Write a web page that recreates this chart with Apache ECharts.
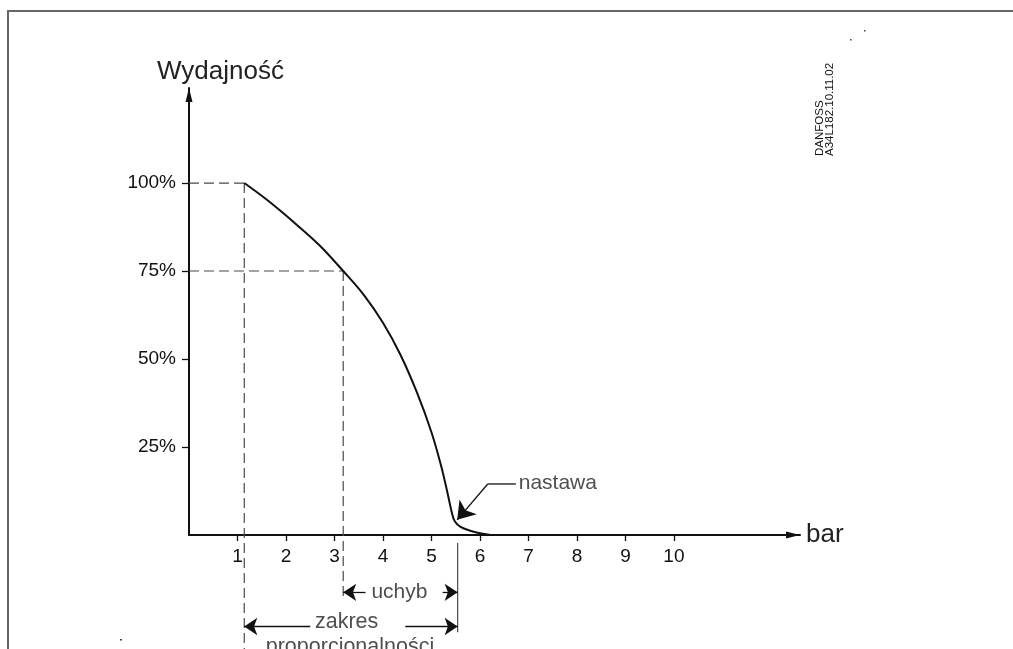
<!DOCTYPE html>
<html>
<head>
<meta charset="utf-8">
<script src="https://cdn.jsdelivr.net/npm/echarts@6/dist/echarts.min.js"></script>
<style>
html,body{margin:0;padding:0;background:#fff;}
#c{width:1013px;height:649px;}
</style>
</head>
<body>
<div id="c"></div>
<script>
// ---- data ----
const xTicks = [1, 2, 3, 4, 5, 6, 7, 8, 9, 10];
const yTicks = [25, 50, 75, 100];
const yTickLabels = ['25%', '50%', '75%', '100%'];
const curveX = [1.14, 1.6, 2.15, 2.7, 3.18, 3.6, 4.0, 4.36, 4.7, 5.0, 5.2, 5.33, 5.42, 5.48, 5.6, 5.8, 6.0, 6.22];
const curveY = [100, 95.3, 89.0, 82.2, 75, 68.3, 60.3, 51.2, 40.5, 29.2, 19.6, 12, 6.4, 3.9, 2.3, 1.2, 0.5, 0];
const proportionalStart = 1.14;   // bar
const deviationStart = 3.18;      // bar
const setpoint = 5.54;            // bar
const setpointArrowFrom = [6.16, 14.5];
const setpointLabelAt = [6.74, 14.5];
const uchybY = -16.3;
const zakresY = -26;

const FONT = '"Liberation Sans", Arial, sans-serif';
const GRAY = '#4a4a4a';

const chart = echarts.init(document.getElementById('c'), null, {renderer: 'canvas'});

const dashed = {color: GRAY, width: 1.2, type: [10, 5]};

function lineSeries(points, style) {
  return {
    type: 'line', data: points, symbol: 'none', clip: false, silent: true,
    lineStyle: style, z: 3, animation: false
  };
}
function arrowSeries(coords, opts) {
  opts = opts || {};
  return {
    type: 'lines', coordinateSystem: 'cartesian2d', clip: false, silent: true,
    symbol: ['none', 'arrow'], symbolSize: opts.size || [7, 12],
    lineStyle: {color: opts.color || '#111', width: opts.width || 1.3, curveness: 0, opacity: 1},
    data: [{coords: coords}], z: 4, animation: false
  };
}
function textSeries(x, y, text, size, align) {
  return {
    type: 'scatter', clip: false, silent: true, symbolSize: 0,
    data: [{value: [x, y], name: text}], z: 5, animation: false,
    label: {show: true, position: 'inside', formatter: '{b}', color: '#222',
      fontFamily: FONT, fontSize: size, align: align || 'center', verticalAlign: 'middle'}
  };
}

const curve = curveX.map((x, i) => [x, curveY[i]]);

const option = {
  animation: false,
  backgroundColor: '#fff',
  title: {
    text: 'Wydajność', left: 152, top: 54,
    textStyle: {fontFamily: FONT, fontSize: 26, fontWeight: 'normal', color: '#222'}
  },
  grid: {left: 189, right: 213, top: 88, bottom: 114, containLabel: false},
  xAxis: {
    type: 'value', min: 0, max: 12.6,
    name: 'bar', nameLocation: 'end', nameGap: 6,
    nameTextStyle: {fontFamily: FONT, fontSize: 26, color: '#222', verticalAlign: 'middle', padding: [0, 0, 4, 0]},
    axisLine: {show: true, onZero: false, symbol: ['none', 'triangle'], symbolSize: [7, 14], symbolOffset: [0, -7],
      lineStyle: {color: '#111', width: 2}},
    axisTick: {show: true, customValues: xTicks, length: 6, lineStyle: {color: '#111', width: 1.3}},
    axisLabel: {show: true, customValues: xTicks, margin: 12, fontFamily: FONT, fontSize: 19, color: '#111'},
    splitLine: {show: false}
  },
  yAxis: {
    type: 'value', min: 0, max: 127,
    axisLine: {show: true, onZero: false, symbol: ['none', 'triangle'], symbolSize: [7, 14], symbolOffset: [0, -7],
      lineStyle: {color: '#111', width: 2}},
    axisTick: {show: true, customValues: yTicks, length: 7, lineStyle: {color: '#111', width: 1.3}},
    axisLabel: {show: true, customValues: yTicks, margin: 13, fontFamily: FONT, fontSize: 19, color: '#111',
      formatter: v => yTickLabels[yTicks.indexOf(v)]},
    splitLine: {show: false}
  },
  graphic: [
    {type: 'line', shape: {x1: 8, y1: 11, x2: 1013, y2: 11}, style: {stroke: '#666', lineWidth: 2}, silent: true},
    {type: 'line', shape: {x1: 8, y1: 10, x2: 8, y2: 649}, style: {stroke: '#666', lineWidth: 2}, silent: true},
    {type: 'group', x: 825, y: 156, rotation: Math.PI / 2, silent: true,
      children: [{type: 'text', style: {text: 'DANFOSS\nA34L182.10.11.02', fontFamily: FONT, fontSize: 11.5,
        lineHeight: 10, fill: '#111', textAlign: 'left', textVerticalAlign: 'middle'}}]},
    {type: 'rect', shape: {x: 864, y: 30, width: 1.5, height: 1.5}, style: {fill: '#444'}, silent: true},
    {type: 'rect', shape: {x: 850, y: 39, width: 1.5, height: 1.5}, style: {fill: '#444'}, silent: true},
    {type: 'rect', shape: {x: 120, y: 639, width: 2, height: 1.5}, style: {fill: '#444'}, silent: true}
  ],
  series: [
    // guide lines
    lineSeries([[0, 100], [proportionalStart, 100]], dashed),
    lineSeries([[0, 75], [deviationStart, 75]], dashed),
    lineSeries([[proportionalStart, 100], [proportionalStart, -36]], dashed),
    lineSeries([[deviationStart, 75], [deviationStart, -18.5]], dashed),
    lineSeries([[setpoint, -2.3], [setpoint, -27.6]], {color: GRAY, width: 1.2}),
    // capacity curve
    {type: 'line', data: curve, symbol: 'none', smooth: 0.35, clip: false, silent: true,
      lineStyle: {color: '#111', width: 2}, z: 6},
    // uchyb arrows
    arrowSeries([[3.64, uchybY], [deviationStart, uchybY]], {size: [7, 13]}),
    arrowSeries([[5.23, uchybY], [setpoint, uchybY]], {size: [7, 13]}),
    textSeries(4.34, uchybY, 'uchyb', 21),
    // zakres arrows
    arrowSeries([[2.5, zakresY], [proportionalStart, zakresY]], {size: [7, 13]}),
    arrowSeries([[4.46, zakresY], [setpoint, zakresY]], {size: [7, 13]}),
    textSeries(3.25, -24.8, 'zakres', 21.5),
    textSeries(3.32, -31.8, 'proporcjonalności', 21.5),
    // nastawa
    lineSeries([setpointLabelAt, setpointArrowFrom], {color: '#111', width: 1.3}),
    arrowSeries([setpointArrowFrom, [5.53, 4.3]], {size: [10, 17]}),
    textSeries(6.8, 14.8, 'nastawa', 21, 'left')
  ]
};
chart.setOption(option);
</script>
</body>
</html>
